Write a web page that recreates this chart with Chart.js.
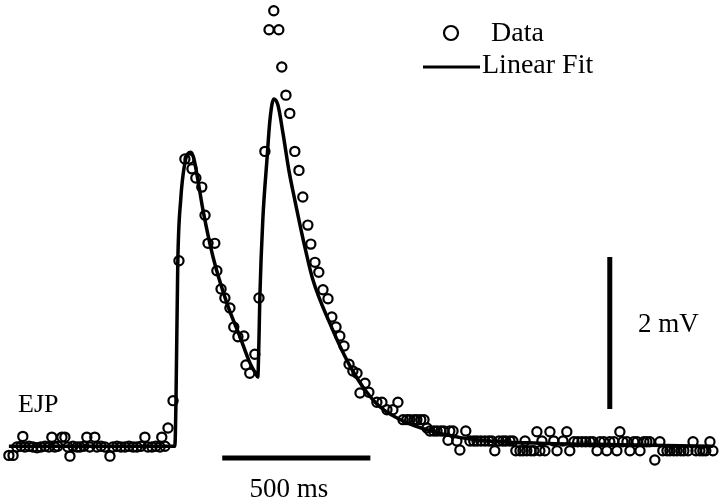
<!DOCTYPE html>
<html>
<head>
<meta charset="utf-8">
<script src="https://cdn.jsdelivr.net/npm/chart.js@4.4.1/dist/chart.umd.min.js"></script>
<style>
    body { margin: 0; background: #fff; }
    #wrap { width: 720px; height: 499px; }
</style>
</head>
<body>
<div id="wrap"><canvas id="ejp"></canvas></div>
<script>
// recorded EJP samples: time (ms) and membrane potential (mV, relative to rest)
const dataTime = [
    0, 14, 27, 41, 47, 54, 68, 81, 95, 108, 122, 135, 145, 155, 165, 179, 189, 199, 206, 216,
    230, 240, 253, 263, 273, 290, 297, 311, 324, 341, 351, 365, 378, 392, 405, 419, 432, 446, 459, 469,
    483, 496, 510, 516, 527, 537, 554,
    574, 594, 608, 618, 631, 651, 662, 672, 695, 702, 716, 729, 746, 759, 773, 793, 800, 813, 830, 844,
    864, 878, 894, 911, 921, 935, 948, 965, 979, 992,
    1009, 1019, 1033, 1046, 1060, 1077, 1090, 1104, 1117, 1131, 1148, 1161, 1175, 1185, 1202, 1215, 1242, 1259, 1276, 1296,
    1313, 1330, 1343, 1353, 1367, 1377, 1390, 1401, 1411, 1421, 1434, 1445, 1458, 1468, 1482, 1488, 1499, 1512, 1522, 1542,
    1556, 1569, 1580, 1593, 1607, 1620, 1630, 1640, 1654, 1667, 1677, 1691, 1701, 1711, 1725, 1735, 1742, 1748, 1762, 1772,
    1782, 1792, 1799, 1809, 1826, 1839, 1850, 1870, 1883, 1893, 1907, 1920, 1934, 1947, 1961, 1971, 1985, 1995, 2008, 2018,
    2028, 2042, 2052, 2062, 2072, 2086, 2096, 2109, 2120, 2130, 2143, 2153, 2163, 2180, 2197, 2207, 2221, 2231, 2244, 2255,
    2268, 2278, 2292, 2309, 2319, 2332, 2342, 2352, 2366, 2376
];
const dataVolt = [
    -0.11, -0.11, 0.0, 0.01, 0.14, 0.0, 0.01, 0.0, -0.01, 0.0, 0.01, 0.0, 0.13, 0.0, 0.01, 0.13, 0.13, 0.0, -0.12, 0.01,
    0.0, 0.0, 0.01, 0.13, 0.0, 0.13, 0.0, 0.01, 0.0, -0.12, 0.0, 0.01, 0.0, 0.0, 0.01, 0.0, 0.0, 0.01, 0.13, 0.0,
    0.0, 0.01, 0.0, 0.13, 0.01, 0.25, 0.61,
    2.45, 3.79, 3.79, 3.66, 3.54, 3.42, 3.05, 2.68, 2.68, 2.32, 2.08, 1.96, 1.83, 1.58, 1.45, 1.46, 1.08, 0.97, 1.22, 1.96,
    3.89, 5.49, 5.74, 5.49, 5.00, 4.63, 4.39, 3.89, 3.64, 3.29,
    2.92, 2.67, 2.43, 2.30, 2.07, 1.95, 1.71, 1.58, 1.46, 1.33, 1.09, 1.00, 0.97, 0.71, 0.84, 0.72, 0.59, 0.59, 0.49, 0.49,
    0.59, 0.36, 0.36, 0.36, 0.36, 0.36, 0.36, 0.36, 0.25, 0.21, 0.21, 0.21, 0.21, 0.21, 0.09, 0.21, 0.21, 0.08, -0.04, 0.21,
    0.08, 0.08, 0.08, 0.08, 0.08, 0.08, 0.08, -0.05, 0.08, 0.08, 0.08, 0.08, 0.08, -0.05, -0.05, -0.05, 0.08, -0.05, -0.05, -0.05,
    0.20, -0.05, 0.08, -0.05, 0.20, 0.08, -0.05, 0.08, 0.20, -0.05, 0.07, 0.07, 0.07, 0.07, 0.07, 0.07, -0.05, 0.07, 0.07, -0.05,
    0.07, 0.07, -0.05, 0.20, 0.07, 0.07, -0.05, 0.07, 0.07, -0.05, 0.07, 0.07, 0.07, -0.17, 0.07, -0.05, -0.05, -0.05, -0.05, -0.05,
    -0.05, -0.05, -0.05, 0.07, -0.05, -0.05, -0.05, -0.05, 0.07, -0.05
];

// fitted curve
const fitTime = [0, 560, 564, 570, 580, 594, 604, 614, 624, 638, 655, 689, 736, 780, 813, 834, 840,
    844, 847, 857, 871, 881, 894, 908, 925, 945, 965, 999, 1026, 1083, 1141, 1195, 1252, 1343, 1455, 1590, 1792, 2062, 2376];
const fitVolt = [0.01, 0.01, 0.62, 2.42, 3.26, 3.74, 3.86, 3.88, 3.80, 3.51, 3.12, 2.50, 1.89, 1.45, 1.11, 0.96, 0.92,
    1.41, 1.97, 2.99, 3.78, 4.30, 4.58, 4.50, 4.13, 3.64, 3.25, 2.63, 2.20, 1.63, 1.14, 0.79, 0.53, 0.32, 0.18, 0.09, 0.05, 0.03, 0.01];

// scale bars (ms, mV)
const barV = { t: 2028, from: 0.5, to: 2.5 };
const barT = { from: 720, to: 1220, v: -0.145 };

const serif = '"Liberation Serif", "Times New Roman", serif';

const scaleBars = {
    id: 'scaleBars',
    afterDatasetsDraw(chart) {
        const c = chart.ctx;
        const x = chart.scales.x, y = chart.scales.y;
        c.save();
        c.strokeStyle = '#000';
        c.fillStyle = '#000';
        c.lineCap = 'butt';

        c.lineWidth = 5;
        c.beginPath();
        c.moveTo(x.getPixelForValue(barV.t), y.getPixelForValue(barV.from));
        c.lineTo(x.getPixelForValue(barV.t), y.getPixelForValue(barV.to));
        c.stroke();

        c.lineWidth = 5;
        c.beginPath();
        c.moveTo(x.getPixelForValue(barT.from), y.getPixelForValue(barT.v));
        c.lineTo(x.getPixelForValue(barT.to), y.getPixelForValue(barT.v));
        c.stroke();

        c.textBaseline = 'middle';
        c.font = '27px ' + serif;
        c.textAlign = 'left';
        c.fillText('2 mV', 638, 325);
        c.textAlign = 'center';
        c.fillText('500 ms', 289, 490);
        c.textAlign = 'left';
        c.font = '26px ' + serif;
        c.fillText('EJP', 18, 405);

        // legend
        c.font = '28px ' + serif;
        c.lineWidth = 2.2;
        c.beginPath();
        c.arc(451, 33, 7, 0, Math.PI * 2);
        c.stroke();
        c.fillText('Data', 491, 34);
        c.lineWidth = 3;
        c.beginPath();
        c.moveTo(423, 67);
        c.lineTo(480, 67);
        c.stroke();
        c.fillText('Linear Fit', 482, 66);
        c.restore();
    }
};

new Chart(document.getElementById('ejp'), {
    type: 'scatter',
    data: {
        datasets: [{
            label: 'Linear Fit',
            data: fitTime.map((t, i) => ({ x: t, y: fitVolt[i] })),
            showLine: true,
            borderColor: '#000',
            borderWidth: 3.5,
            pointRadius: 0,
            cubicInterpolationMode: 'monotone',
            clip: false
        }, {
            label: 'Data',
            data: dataTime.map((t, i) => ({ x: t, y: dataVolt[i] })),
            showLine: false,
            pointStyle: 'circle',
            pointRadius: 4.6,
            borderWidth: 2.2,
            borderColor: '#000',
            backgroundColor: 'rgba(0,0,0,0)',
            clip: false
        }]
    },
    options: {
        responsive: true,
        maintainAspectRatio: false,
        animation: false,
        layout: { padding: 0, autoPadding: false },
        plugins: {
            legend: { display: false },
            tooltip: { enabled: false }
        },
        scales: {
            x: { type: 'linear', min: -30, max: 2400, display: false },
            y: { min: -0.684, max: 5.882, display: false }
        }
    },
    plugins: [scaleBars]
});
</script>
</body>
</html>
